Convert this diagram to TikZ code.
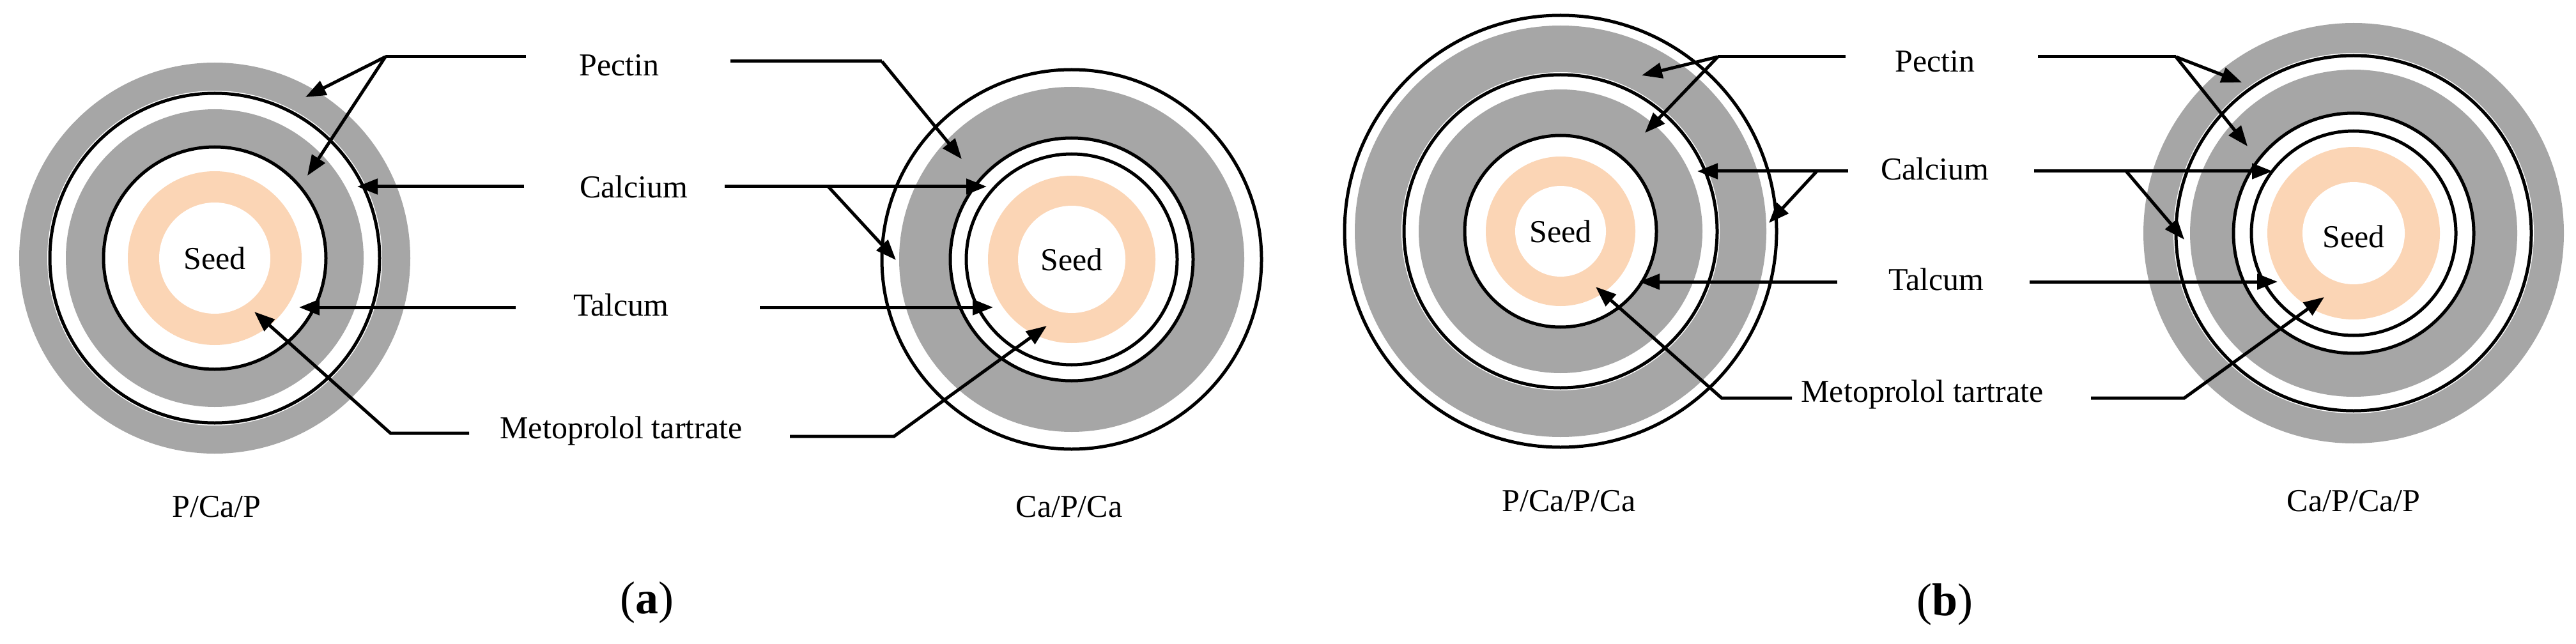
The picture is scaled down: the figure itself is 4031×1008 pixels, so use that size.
\documentclass[tikz,border=0pt]{standalone}
\usepackage{fontspec}
\setmainfont{Liberation Serif}
\usetikzlibrary{arrows.meta}
\definecolor{pgray}{HTML}{A6A6A6}
\definecolor{peach}{HTML}{FBD5B5}
\tikzset{
  lbl/.style={font=\fontsize{50}{56}\selectfont, inner sep=0pt},
  figcap/.style={font=\fontsize{72}{80}\selectfont, inner sep=0pt},
  ln/.style={line width=5pt},
  arr/.style={line width=5pt,-{Triangle[length=32pt,width=24pt]}},
  ring/.style={line width=5pt},
}
\begin{document}
\begin{tikzpicture}[x=1pt,y=-1pt]
\useasboundingbox (0,0) rectangle (4031,1008);
\fill[white] (0,0) rectangle (4031,1008);
% ---- (a) left: P/Ca/P
\fill[pgray] (336,404) circle (306);
\fill[white] (336,404) circle (262);
\draw[ring] (336,404) circle (258);
\fill[pgray] (336,404) circle (233);
\fill[white] (336,404) circle (174);
\draw[ring] (336,404) circle (174);
\fill[peach] (336,404) circle (136);
\fill[white] (336,404) circle (87);
\node[lbl] (s1) at (336,404) {Seed};
% ---- (a) right: Ca/P/Ca
\draw[ring] (1677,406) circle (297);
\fill[pgray] (1677,406) circle (270);
\fill[white] (1677,406) circle (192);
\draw[ring] (1677,406) circle (190);
\draw[ring] (1677,406) circle (165);
\fill[peach] (1677,406) circle (131);
\fill[white] (1677,406) circle (84);
\node[lbl] (s2) at (1677,406) {Seed};
% ---- (b) left: P/Ca/P/Ca
\draw[ring] (2442,362) circle (338);
\fill[pgray] (2442,362) circle (322);
\fill[white] (2442,362) circle (249);
\draw[ring] (2442,362) circle (245);
\fill[pgray] (2442,362) circle (222);
\fill[white] (2442,362) circle (150);
\draw[ring] (2442,362) circle (150);
\fill[peach] (2442,362) circle (117);
\fill[white] (2442,362) circle (71);
\node[lbl] (s3) at (2442,362) {Seed};
% ---- (b) right: Ca/P/Ca/P
\fill[pgray] (3683,365) circle (329);
\fill[white] (3683,365) circle (282);
\draw[ring] (3683,365) circle (278);
\fill[pgray] (3683,365) circle (256);
\fill[white] (3683,365) circle (190);
\draw[ring] (3683,365) circle (188);
\draw[ring] (3683,365) circle (160);
\fill[peach] (3683,365) circle (135);
\fill[white] (3683,365) circle (80);
\node[lbl] (s4) at (3683,370) {Seed};

% ---- labels (a)
\node[lbl] (pa) at (969,102) {Pectin};
\node[lbl] (ca) at (992,292) {Calcium};
\node[lbl] (ta) at (972,477) {Talcum};
\node[lbl] (ma) at (972,674) {Metoprolol tartrate};
\node[lbl] (c1) at (339,793) {P/Ca/P};
\node[lbl] (c2) at (1673,793) {Ca/P/Ca};
\node[figcap] (fa) at (1012,943) {(\textbf{a})};
% ---- labels (b)
\node[lbl] (pb) at (3028,96) {Pectin};
\node[lbl] (cb) at (3028,264) {Calcium};
\node[lbl] (tb) at (3030,437) {Talcum};
\node[lbl] (mb) at (3008,617) {Metoprolol tartrate};
\node[lbl] (c3) at (2455,784) {P/Ca/P/Ca};
\node[lbl] (c4) at (3683,784) {Ca/P/Ca/P};
\node[figcap] (fb) at (3043,946) {(\textbf{b})};

% ---- connectors (a)
\coordinate (pa1) at (823,89); \coordinate (pa2) at (603,89);
\draw[ln] (pa1) -- (pa2);
\draw[arr] (pa2) -- (478,152);
\draw[arr] (pa2) -- (481,275);
\coordinate (pa3) at (1143,96); \coordinate (pa4) at (1380,96);
\draw[ln] (pa3) -- (pa4);
\draw[arr] (pa4) -- (1505,249);
\coordinate (ca1) at (820,292);
\draw[arr] (ca1) -- (559,292);
\coordinate (ca2) at (1134,292); \coordinate (ca3) at (1296,292);
\draw[arr] (ca2) -- (1544,292);
\draw[arr] (ca3) -- (1402,407);
\coordinate (ta1) at (807,481);
\draw[arr] (ta1) -- (468,481);
\coordinate (ta2) at (1189,481);
\draw[arr] (ta2) -- (1554,481);
\coordinate (ma1) at (734,678); \coordinate (ma2) at (611,678);
\draw[arr] (ma1) -- (ma2) -- (398,488);
\coordinate (ma3) at (1236,683); \coordinate (ma4) at (1399,683);
\draw[arr] (ma3) -- (ma4) -- (1638,510);

% ---- connectors (b)
\coordinate (pb1) at (2888,89); \coordinate (pb2) at (2688,89);
\draw[ln] (pb1) -- (pb2);
\draw[arr] (pb2) -- (2569,118);
\draw[arr] (pb2) -- (2574,208);
\coordinate (pb3) at (3189,89); \coordinate (pb4) at (3405,89);
\draw[ln] (pb3) -- (pb4);
\draw[arr] (pb4) -- (3508,129);
\draw[arr] (pb4) -- (3517,229);
\coordinate (cb1) at (2892,268); \coordinate (cb2) at (2843,268);
\draw[arr] (cb1) -- (2656,268);
\draw[arr] (cb2) -- (2768,349);
\coordinate (cb3) at (3183,268); \coordinate (cb4) at (3327,268);
\draw[arr] (cb3) -- (3556,268);
\draw[arr] (cb4) -- (3418,375);
\coordinate (tb1) at (2875,441);
\draw[arr] (tb1) -- (2565,441);
\coordinate (tb2) at (3176,441);
\draw[arr] (tb2) -- (3564,441);
\coordinate (mb1) at (2804,623); \coordinate (mb2) at (2694,623);
\draw[arr] (mb1) -- (mb2) -- (2497,449);
\coordinate (mb3) at (3272,623); \coordinate (mb4) at (3418,623);
\draw[arr] (mb3) -- (mb4) -- (3637,465);
\end{tikzpicture}
\end{document}
